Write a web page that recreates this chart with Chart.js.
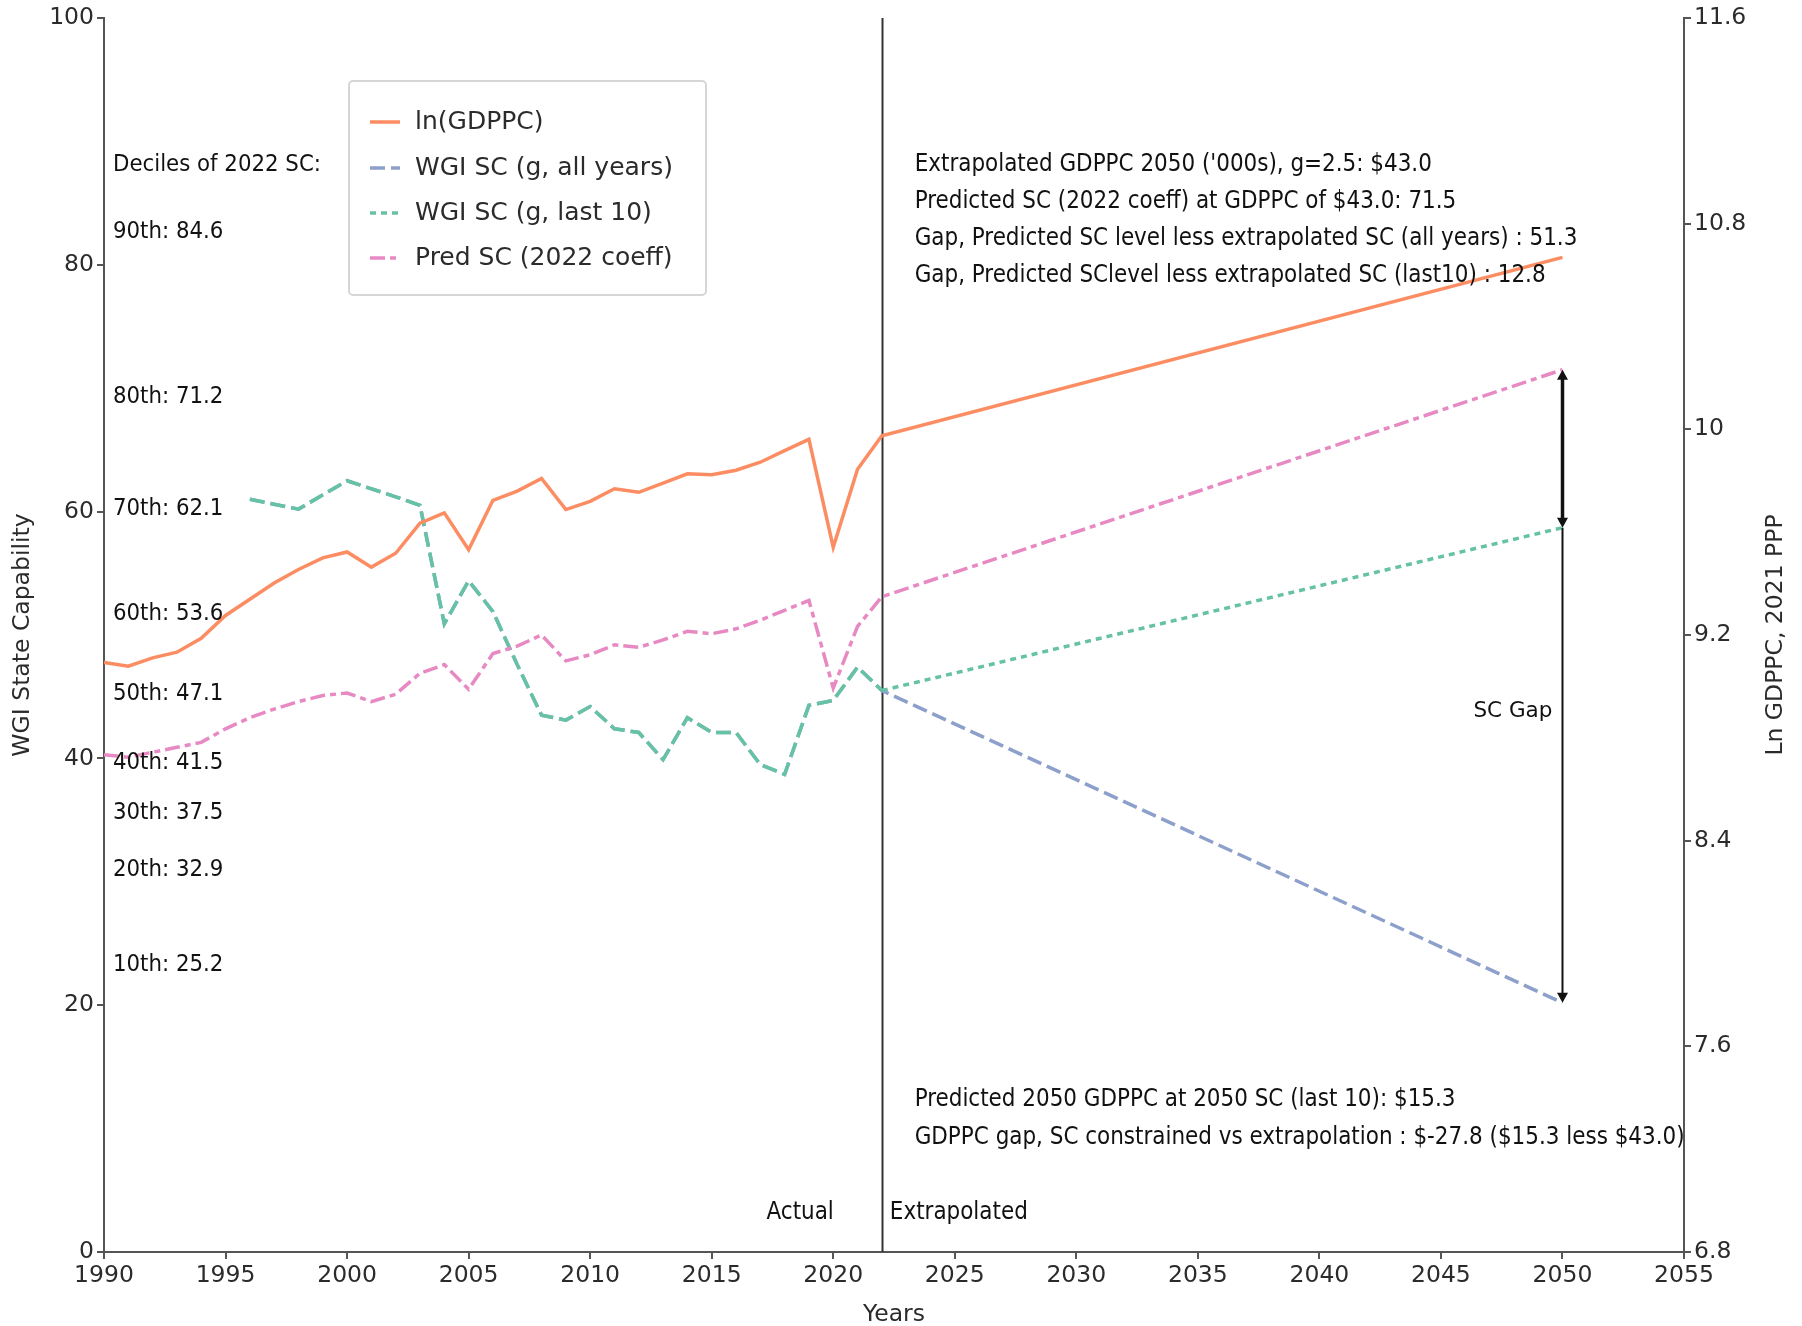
<!DOCTYPE html>
<html>
<head>
<meta charset="utf-8">
<script src="https://cdn.jsdelivr.net/npm/chart.js@4.4.1/dist/chart.umd.min.js"></script>
<style>
  html, body { margin: 0; padding: 0; background: #fff; }
  #wrap { width: 1802px; height: 1326px; position: relative; }
</style>
</head>
<body>
<div id="wrap"><canvas id="scChart"></canvas></div>
<script>
// historical series, 1990-2022
const histYears = [1990, 1991, 1992, 1993, 1994, 1995, 1996, 1997, 1998, 1999,
  2000, 2001, 2002, 2003, 2004, 2005, 2006, 2007, 2008, 2009,
  2010, 2011, 2012, 2013, 2014, 2015, 2016, 2017, 2018, 2019,
  2020, 2021, 2022];
const lnGdppc = [9.093, 9.079, 9.111, 9.133, 9.187, 9.276, 9.339, 9.402, 9.455, 9.500,
  9.523, 9.464, 9.518, 9.635, 9.675, 9.532, 9.724, 9.760, 9.809, 9.688,
  9.720, 9.769, 9.755, 9.791, 9.827, 9.823, 9.841, 9.872, 9.917, 9.961,
  9.541, 9.845, 9.975];
const predSc = [40.3, 40.1, 40.5, 40.9, 41.3, 42.4, 43.3, 44.0, 44.6, 45.1,
  45.3, 44.6, 45.2, 46.9, 47.6, 45.6, 48.5, 49.1, 50.0, 47.9,
  48.4, 49.2, 49.0, 49.6, 50.3, 50.1, 50.5, 51.2, 52.0, 52.8,
  45.7, 50.7, 53.1];

// WGI state capability (biennial until 2002)
const wgiYears = [1996, 1998, 2000, 2002, 2003, 2004, 2005, 2006, 2007, 2008,
  2009, 2010, 2011, 2012, 2013, 2014, 2015, 2016, 2017, 2018,
  2019, 2020, 2021, 2022];
const wgiSc = [61.0, 60.2, 62.5, 61.2, 60.5, 50.9, 54.4, 51.9, 47.6, 43.5,
  43.1, 44.2, 42.4, 42.1, 39.9, 43.3, 42.1, 42.1, 39.5, 38.7,
  44.3, 44.7, 47.4, 45.5];

// extrapolated endpoint, 2050
const extYear = 2050;
const lnGdppc2050 = 10.669;
const predSc2050 = 71.5;
const scAllYears2050 = 20.2;
const scLast10_2050 = 58.7;
const splitYear = 2022;

const xTicks = [1990, 2055, 5];
const yTicks = [0, 100, 20];
const y1Ticks = [6.8, 11.6, 0.8];

const seriesNames = ['ln(GDPPC)', 'WGI SC (g, all years)', 'WGI SC (g, last 10)', 'Pred SC (2022 coeff)'];
const decileNames = ['90th', '80th', '70th', '60th', '50th', '40th', '30th', '20th', '10th'];
const decileValues = [84.6, 71.2, 62.1, 53.6, 47.1, 41.5, 37.5, 32.9, 25.2];
const topNotes = [
  "Extrapolated GDPPC 2050 ('000s), g=2.5: $43.0",
  'Predicted SC (2022 coeff) at GDPPC of $43.0: 71.5',
  'Gap, Predicted SC level less extrapolated SC (all years) : 51.3',
  'Gap, Predicted SClevel less extrapolated SC (last10) : 12.8',
];
const bottomNotes = [
  'Predicted 2050 GDPPC at 2050 SC (last 10): $15.3',
  'GDPPC gap, SC constrained vs extrapolation : $-27.8 ($15.3 less $43.0)',
];

const COLORS = { orange: '#fc8d62', blue: '#8da0cb', green: '#66c2a5', pink: '#e78ac3' };
const DASH = { dash: [15, 6], dot: [6, 5], dashdot: [15, 5, 6, 5] };
const SANS = "'DejaVu Sans', Verdana, sans-serif";
const NARROW = "'DejaVu Sans Condensed', 'Liberation Sans Narrow', sans-serif";
const TXT = '#2b2b2b';
const AXIS = '#555';

const pts = (xs, ys) => xs.map((x, i) => ({ x, y: ys[i] }));

const ds = [
  {
    label: seriesNames[0], yAxisID: 'y1', order: 1,
    data: pts(histYears, lnGdppc).concat({ x: extYear, y: lnGdppc2050 }),
    borderColor: COLORS.orange, borderWidth: 3.5,
  },
  {
    label: seriesNames[1], yAxisID: 'y', order: 4,
    data: pts(wgiYears, wgiSc).concat({ x: extYear, y: scAllYears2050 }),
    borderColor: COLORS.blue, borderWidth: 3.5, borderDash: DASH.dash,
  },
  {
    label: seriesNames[2], yAxisID: 'y', order: 3,
    data: pts(wgiYears, wgiSc).concat({ x: extYear, y: scLast10_2050 }),
    borderColor: COLORS.green, borderWidth: 3.5, borderDash: DASH.dot,
    segment: { borderDash: (c) => (c.p0.parsed.x >= splitYear ? DASH.dot : DASH.dash) },
  },
  {
    label: seriesNames[3], yAxisID: 'y', order: 2,
    data: pts(histYears, predSc).concat({ x: extYear, y: predSc2050 }),
    borderColor: COLORS.pink, borderWidth: 3.5, borderDash: DASH.dashdot,
  },
];
ds.forEach((d) => Object.assign(d, { pointRadius: 0, tension: 0, fill: false, borderCapStyle: 'butt' }));

function arrowHead(ctx, x, y, dir) {
  ctx.beginPath();
  ctx.moveTo(x, y);
  ctx.lineTo(x - 5.5, y - dir * 10);
  ctx.lineTo(x + 5.5, y - dir * 10);
  ctx.closePath();
  ctx.fill();
}

const notesPlugin = {
  id: 'notes',
  beforeDatasetsDraw(chart) {
    const { ctx, chartArea: a, scales: { x } } = chart;
    const xs = Math.round(x.getPixelForValue(splitYear)) + 0.5;
    ctx.save();
    ctx.strokeStyle = '#333';
    ctx.lineWidth = 2;
    ctx.beginPath();
    ctx.moveTo(xs, a.top);
    ctx.lineTo(xs, a.bottom);
    ctx.stroke();
    ctx.restore();
  },
  afterDatasetsDraw(chart) {
    const { ctx, chartArea: a, scales: { x, y } } = chart;
    ctx.save();
    ctx.fillStyle = '#111';
    ctx.textBaseline = 'middle';

    // deciles down the left edge
    ctx.font = `23.7px ${NARROW}`;
    ctx.textAlign = 'left';
    const lx = a.left + 9;
    ctx.fillText('Deciles of 2022 SC:', lx, y.getPixelForValue(88.1));
    decileValues.forEach((v, i) => {
      ctx.fillText(`${decileNames[i]}: ${v.toFixed(1)}`, lx, y.getPixelForValue(v - 1.9));
    });

    // notes right of the split line
    ctx.font = `23.9px ${NARROW}`;
    const nx = x.getPixelForValue(2023.35);
    topNotes.forEach((t, i) => ctx.fillText(t, nx, y.getPixelForValue(88.1 - i * 2.99)));
    bottomNotes.forEach((t, i) => ctx.fillText(t, nx, y.getPixelForValue(12.3 - i * 3.07)));

    const xs = x.getPixelForValue(splitYear);
    const yl = y.getPixelForValue(3.2);
    ctx.textAlign = 'right';
    ctx.fillText('Actual', xs - 48, yl);
    ctx.textAlign = 'left';
    ctx.fillText('Extrapolated', xs + 8, yl);

    // gap arrows at 2050
    const ax = Math.round(x.getPixelForValue(extYear)) + 0.5;
    const yTop = y.getPixelForValue(predSc2050);
    const yMid = y.getPixelForValue(scLast10_2050);
    const yBot = y.getPixelForValue(scAllYears2050);
    ctx.strokeStyle = '#111';
    ctx.fillStyle = '#111';
    ctx.lineWidth = 2;
    ctx.beginPath();
    ctx.moveTo(ax, yMid);
    ctx.lineTo(ax, yBot - 8);
    ctx.stroke();
    arrowHead(ctx, ax, yBot, 1);
    ctx.lineWidth = 3.5;
    ctx.beginPath();
    ctx.moveTo(ax, yTop + 8);
    ctx.lineTo(ax, yMid - 8);
    ctx.stroke();
    arrowHead(ctx, ax, yTop, -1);
    arrowHead(ctx, ax, yMid, 1);

    ctx.font = `21.5px ${SANS}`;
    ctx.textAlign = 'center';
    ctx.fillText('SC Gap', x.getPixelForValue(2047.96), y.getPixelForValue(43.8));

    // axis titles
    ctx.fillStyle = TXT;
    ctx.font = `23.5px ${SANS}`;
    ctx.fillText('Years', (a.left + a.right) / 2, 1315);
    const cy = (a.top + a.bottom) / 2;
    ctx.translate(23, cy);
    ctx.rotate(-Math.PI / 2);
    ctx.fillText('WGI State Capability', 0, 0);
    ctx.rotate(Math.PI / 2);
    ctx.translate(1776 - 23, 0);
    ctx.rotate(-Math.PI / 2);
    ctx.fillText('Ln GDPPC, 2021 PPP', 0, 0);
    ctx.restore();

    // legend box
    ctx.save();
    ctx.fillStyle = '#fff';
    ctx.strokeStyle = '#d6d6d6';
    ctx.lineWidth = 2;
    ctx.beginPath();
    ctx.roundRect(349, 81, 357, 214, 4);
    ctx.fill();
    ctx.stroke();
    const rows = [122, 168, 213, 258];
    ctx.font = `25px ${SANS}`;
    ctx.textAlign = 'left';
    ctx.textBaseline = 'middle';
    ds.forEach((d, i) => {
      ctx.strokeStyle = d.borderColor;
      ctx.lineWidth = 3.5;
      ctx.setLineDash(i === 2 ? DASH.dot : (d.borderDash || []));
      ctx.beginPath();
      ctx.moveTo(370, rows[i]);
      ctx.lineTo(400, rows[i]);
      ctx.stroke();
      ctx.setLineDash([]);
      ctx.fillStyle = TXT;
      ctx.fillText(d.label, 415, rows[i]);
    });
    ctx.restore();
  },
};

const tickFont = { family: SANS, size: 23.5 };
const axisBase = {
  border: { display: true, color: AXIS, width: 2 },
  grid: { drawOnChartArea: false, drawTicks: true, tickLength: 7, tickColor: AXIS, lineWidth: 2 },
};

new Chart(document.getElementById('scChart'), {
  type: 'line',
  data: { datasets: ds },
  plugins: [notesPlugin],
  options: {
    responsive: true, maintainAspectRatio: false, animation: false,
    layout: { padding: { top: 18, left: 0, right: 0, bottom: 0 } },
    plugins: { legend: { display: false }, tooltip: { enabled: false } },
    scales: {
      x: {
        ...axisBase, type: 'linear', position: 'bottom',
        min: xTicks[0], max: xTicks[1],
        ticks: { stepSize: xTicks[2], font: tickFont, color: TXT, padding: 3, maxRotation: 0, callback: (v) => String(v) },
        afterFit: (s) => { s.height = 74; },
      },
      y: {
        ...axisBase, type: 'linear', position: 'left',
        min: yTicks[0], max: yTicks[1],
        ticks: { stepSize: yTicks[2], font: tickFont, color: TXT, padding: 3 },
        afterFit: (s) => { s.width = 104; },
      },
      y1: {
        ...axisBase, type: 'linear', position: 'right',
        min: y1Ticks[0], max: y1Ticks[1],
        ticks: { stepSize: y1Ticks[2], font: tickFont, color: TXT, padding: 3, callback: (v) => String(Math.round(v * 10) / 10) },
        afterFit: (s) => { s.width = 118; },
      },
    },
  },
});
</script>
</body>
</html>
